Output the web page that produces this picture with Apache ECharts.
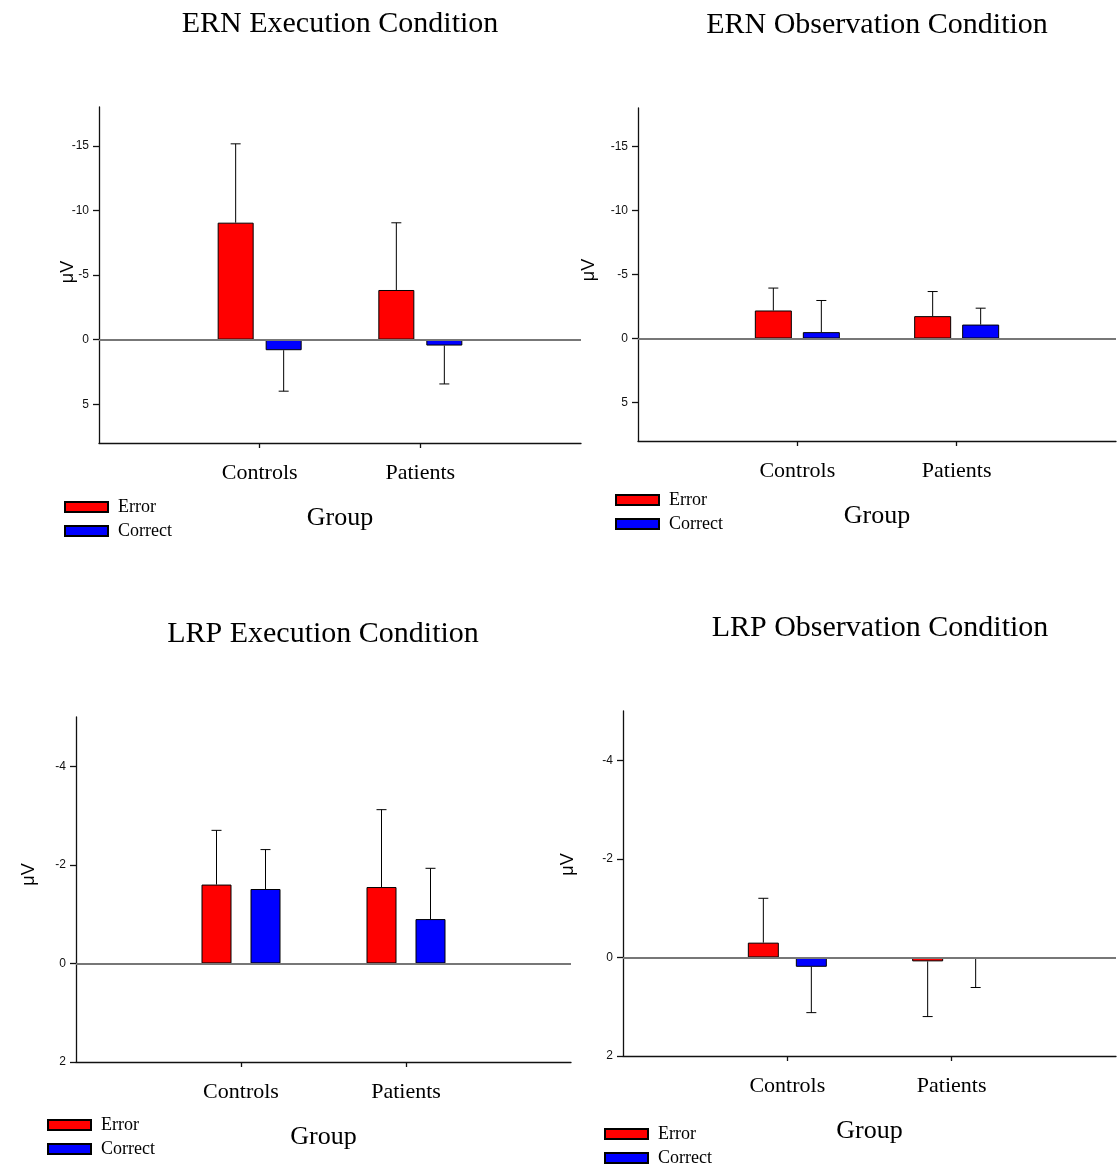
<!DOCTYPE html>
<html>
<head>
<meta charset="utf-8">
<title>ERN / LRP conditions</title>
<script src="https://cdn.jsdelivr.net/npm/echarts@6/dist/echarts.min.js"></script>
<style>
  html, body { margin: 0; padding: 0; background: #fff; }
  #main { width: 1119px; height: 1169px; }
</style>
</head>
<body>
<div id="main"></div>
<script>
// x axis: the two groups sit between two empty slots
const groups = ['Controls', 'Patients'];

// ERN execution (means, sd)
const ernExecError = [-9.05, -3.84];
const ernExecErrorSd = [6.1, 5.2];
const ernExecCorrect = [0.82, 0.46];
const ernExecCorrectSd = [3.17, 2.97];

// ERN observation
const ernObsError = [-2.19, -1.75];
const ernObsErrorSd = [1.75, 1.92];
const ernObsCorrect = [-0.5, -1.09];
const ernObsCorrectSd = [2.47, 1.28];

// LRP execution
const lrpExecError = [-1.6, -1.55];
const lrpExecErrorSd = [1.1, 1.57];
const lrpExecCorrect = [-1.51, -0.9];
const lrpExecCorrectSd = [0.8, 1.03];

// LRP observation
const lrpObsError = [-0.3, 0.08];
const lrpObsErrorSd = [0.9, 1.12];
const lrpObsCorrect = [0.19, 0.03];
const lrpObsCorrectSd = [0.93, 0.58];

// y tick labels
const ernTicks = [-15, -10, -5, 0, 5];
const lrpTicks = [-4, -2, 0, 2];

const SERIF = '"Liberation Serif", "Times New Roman", serif';
const SANS = '"Liberation Sans", Arial, sans-serif';

const panels = [
    {
        title: 'ERN Execution Condition', titleX: 340, titleY: 9,
        err: ernExecError, errSd: ernExecErrorSd, cor: ernExecCorrect, corSd: ernExecCorrectSd,
        min: -18, max: 8, ticks: ernTicks,
        grid: { left: 99, top: 107, width: 482, height: 336 },
        barW: 36, gap: 12, nameGap: 22, nameShift: 6,
        legend: { left: 64, top: 498 }
    },
    {
        title: 'ERN Observation Condition', titleX: 877, titleY: 10,
        err: ernObsError, errSd: ernObsErrorSd, cor: ernObsCorrect, corSd: ernObsCorrectSd,
        min: -18, max: 8, ticks: ernTicks,
        grid: { left: 638, top: 108, width: 479, height: 333 },
        barW: 37, gap: 11, nameGap: 40, nameShift: 9,
        legend: { left: 615, top: 491 }
    },
    {
        title: 'LRP Execution Condition', titleX: 323, titleY: 619,
        err: lrpExecError, errSd: lrpExecErrorSd, cor: lrpExecCorrect, corSd: lrpExecCorrectSd,
        min: -5, max: 2, ticks: lrpTicks,
        grid: { left: 76, top: 717, width: 495, height: 345 },
        barW: 30, gap: 19, nameGap: 38, nameShift: 30,
        legend: { left: 47, top: 1116 }
    },
    {
        title: 'LRP Observation Condition', titleX: 880, titleY: 613,
        err: lrpObsError, errSd: lrpObsErrorSd, cor: lrpObsCorrect, corSd: lrpObsCorrectSd,
        min: -5, max: 2, ticks: lrpTicks,
        grid: { left: 623, top: 711, width: 494, height: 345 },
        barW: 31, gap: 17, nameGap: 46, nameShift: 38,
        legend: { left: 604, top: 1125 }
    }
];

// error bar pointing away from zero, shifted onto its bar
function errorBars(offset) {
    return function (params, api) {
        const mean = api.value(1);
        const sd = api.value(2);
        const tip = mean < 0 ? mean - sd : mean + sd;
        const base = api.coord([api.value(0), mean]);
        const end = api.coord([api.value(0), tip]);
        const x = base[0] + offset;
        const style = { stroke: '#000', lineWidth: 1 };
        return {
            type: 'group',
            children: [
                { type: 'line', shape: { x1: x, y1: base[1], x2: x, y2: end[1] }, style: style },
                { type: 'line', shape: { x1: x - 5, y1: end[1], x2: x + 5, y2: end[1] }, style: style }
            ]
        };
    };
}

const pad = (arr) => ['-'].concat(arr, ['-']);
const withSd = (arr, sd) => arr.map((v, k) => [k + 1, v, sd[k]]);

const option = {
    animation: false,
    backgroundColor: '#fff',
    title: [],
    legend: [],
    grid: [],
    xAxis: [],
    yAxis: [],
    series: []
};

panels.forEach(function (p, i) {
    option.title.push({
        text: p.title,
        left: p.titleX,
        top: p.titleY,
        padding: 0,
        textAlign: 'center',
        textStyle: { fontFamily: SERIF, fontSize: 30, fontWeight: 'normal', color: '#000' }
    });
    option.legend.push({
        left: p.legend.left,
        top: p.legend.top,
        padding: 0,
        orient: 'vertical',
        icon: 'rect',
        itemWidth: 43,
        itemHeight: 10,
        itemGap: 6,
        selectedMode: false,
        data: ['Error', 'Correct'],
        textStyle: { fontFamily: SERIF, fontSize: 18, color: '#000', padding: [0, 0, 0, 5] }
    });
    option.grid.push(Object.assign({}, p.grid));
    option.xAxis.push({
        gridIndex: i,
        type: 'category',
        data: [''].concat(groups, ['']),
        boundaryGap: false,
        name: 'Group',
        nameLocation: 'middle',
        nameGap: 62,
        nameMoveOverlap: false,
        nameTextStyle: { fontFamily: SERIF, fontSize: 26, color: '#000' },
        axisLine: { onZero: false, lineStyle: { color: '#111', width: 1.3 } },
        axisTick: {
            show: true, length: 5,
            interval: (idx) => idx === 1 || idx === 2,
            lineStyle: { color: '#111', width: 1.3 }
        },
        axisLabel: { interval: 0, margin: 19, fontFamily: SERIF, fontSize: 22, color: '#000' },
        splitLine: { show: false }
    });
    option.yAxis.push({
        gridIndex: i,
        type: 'value',
        inverse: true,
        min: p.min,
        max: p.max,
        name: 'μV',
        nameLocation: 'middle',
        nameRotate: 90,
        nameGap: p.nameGap,
        nameMoveOverlap: false,
        nameTextStyle: { fontFamily: SANS, fontSize: 18, color: '#000', padding: [0, 0, 0, p.nameShift] },
        axisLine: { show: true, onZero: false, lineStyle: { color: '#111', width: 1.3 } },
        axisTick: { show: true, length: 6, customValues: p.ticks, lineStyle: { color: '#111', width: 1.3 } },
        axisLabel: { customValues: p.ticks, margin: 10, fontFamily: SANS, fontSize: 12, color: '#111' },
        splitLine: { show: false }
    });

    const half = (p.barW + p.gap) / 2;
    const barCommon = {
        type: 'bar',
        xAxisIndex: i,
        yAxisIndex: i,
        barWidth: p.barW,
        barGap: (p.gap / p.barW * 100) + '%'
    };
    option.series.push(Object.assign({}, barCommon, {
        name: 'Error',
        data: pad(p.err),
        itemStyle: { color: '#ff0000', borderColor: '#000', borderWidth: 1 },
        markLine: {
            silent: true,
            symbol: ['none', 'none'],
            label: { show: false },
            lineStyle: { color: '#777', width: 2, type: 'solid' },
            data: [{ yAxis: 0 }]
        }
    }));
    option.series.push(Object.assign({}, barCommon, {
        name: 'Correct',
        data: pad(p.cor),
        itemStyle: { color: '#0000ff', borderColor: '#000', borderWidth: 1 }
    }));
    option.series.push({
        type: 'custom',
        xAxisIndex: i,
        yAxisIndex: i,
        encode: { x: 0, y: 1 },
        renderItem: errorBars(-half),
        data: withSd(p.err, p.errSd),
        z: 3
    });
    option.series.push({
        type: 'custom',
        xAxisIndex: i,
        yAxisIndex: i,
        encode: { x: 0, y: 1 },
        renderItem: errorBars(half),
        data: withSd(p.cor, p.corSd),
        z: 3
    });
});

const chart = echarts.init(document.getElementById('main'));
chart.setOption(option);
</script>
</body>
</html>
